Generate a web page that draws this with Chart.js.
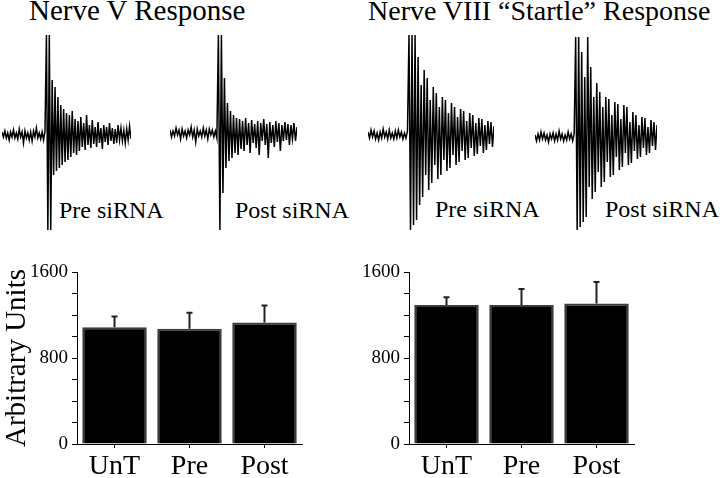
<!DOCTYPE html>
<html><head><meta charset="utf-8">
<script src="https://cdn.jsdelivr.net/npm/chart.js@4.4.1/dist/chart.umd.min.js"></script>
<style>
html,body{margin:0;padding:0;background:#fff;}
body{width:720px;height:478px;position:relative;overflow:hidden;font-family:"Liberation Serif","Times New Roman",serif;color:#000;}
.t{position:absolute;white-space:nowrap;line-height:1;font-family:"Liberation Serif",serif;}
canvas{position:absolute;}
</style></head><body>
<div class="t" style="left:29px;top:-4px;font-size:29px">Nerve V Response</div>
<div class="t" style="left:368px;top:-3px;font-size:28px">Nerve VIII “Startle” Response</div>
<div class="t" style="left:59px;top:198px;font-size:24px">Pre siRNA</div>
<div class="t" style="left:235px;top:198px;font-size:24px">Post siRNA</div>
<div class="t" style="left:435px;top:197px;font-size:24px">Pre siRNA</div>
<div class="t" style="left:605px;top:197px;font-size:24px">Post siRNA</div>

<canvas id="tr1" width="129" height="200" style="left:2px;top:35px"></canvas>
<canvas id="tr2" width="127" height="200" style="left:170px;top:33px"></canvas>
<canvas id="tr3" width="126" height="200" style="left:368px;top:35px"></canvas>
<canvas id="tr4" width="122" height="200" style="left:535px;top:37px"></canvas>
<canvas id="bar1" width="310" height="228" style="left:0px;top:250px"></canvas>
<canvas id="bar2" width="330" height="228" style="left:330px;top:250px"></canvas>

<script>
// ---- Data ----
const categories = ['UnT', 'Pre', 'Post'];
const nerveVMeans = [1085, 1072, 1131];
const nerveVErrors = [100, 150, 158];
const nerveVIIIMeans = [1294, 1294, 1306];
const nerveVIIIErrors = [70, 147, 200];
const yLabelValues = [0, 800, 1600];

// Recorded traces (relative amplitude, baseline = 0)
const traceVPre = [3,-2,4,-3,2,-5,3,-2,5,-3,2,-4,6,-2,3,-8,4,-3,2,-5,3,-6,4,-2,7,-3,2,-4,3,-5,4,
  100,-95,100,-95,
  55,-40,48,-36,38,-33,30,-30,26,-27,22,-25,20,-22,24,-18,16,-20,14,-16,18,-12,12,-15,20,-10,10,-13,15,-9,8,-12,13,-8,7,-14,10,-7,8,-10,12,-6,7,-9,6,-8,10,-5,7,-6,5,-8,6,-5,9,-4];
const traceVPost = [3,-4,2,-3,5,-2,3,-6,4,-3,2,-5,3,-2,6,-4,3,-9,4,-3,2,-4,5,-3,3,-6,4,-2,3,-4,2,-5,
  98,-97,98,
  -60,55,-35,30,-28,22,-25,18,-20,15,-22,14,-16,12,-18,15,-12,10,-20,13,-10,9,-15,12,-22,10,-8,14,-12,9,-25,11,-10,8,-14,12,-9,10,-18,8,-8,11,-7,9,-12,8,-6,10,-8,6];
const traceVIIIPre = [3,-3,5,-2,4,-4,2,-5,3,-3,6,-2,3,-4,5,-3,2,-4,4,-3,5,-2,3,-4,2,-3,4,
  100,-95,100,-90,100,-85,78,-70,50,-62,65,-40,57,-55,35,-48,48,-30,42,-44,28,-40,38,-25,35,-36,22,-33,32,-20,28,-30,18,-27,26,-16,24,-25,14,-23,22,-13,20,-21,12,-19,17,-11,16,-18,10,-15,14,-9,13,-12,9];
const traceVIIIPost = [2,-4,3,-3,5,-2,4,-3,2,-5,3,-2,4,-4,3,-3,6,-2,3,-4,2,-3,5,-2,3,-4,3,
  100,-93,100,-90,85,-85,60,-80,100,-50,70,-62,40,-55,54,-35,45,-50,30,-45,40,-25,38,-40,22,-38,35,-20,33,-33,18,-30,32,-16,30,-28,15,-26,25,-14,22,-22,12,-20,20,-11,19,-18,10,-16,17,-9,15,-13,12];

const SERIF = 'Liberation Serif';

function traceChart(id, values) {
  new Chart(document.getElementById(id), {
    type: 'line',
    data: {
      labels: values.map((_, i) => i),
      datasets: [{ data: values, borderColor: '#000', borderWidth: 1.5, pointRadius: 0, tension: 0, fill: false, clip: 2 }]
    },
    options: {
      responsive: false, animation: false, events: [],
      layout: { padding: 0 },
      plugins: { legend: { display: false }, tooltip: { enabled: false } },
      scales: {
        x: { display: false, offset: false },
        y: { display: false, min: -100, max: 100 }
      }
    }
  });
}
traceChart('tr1', traceVPre);
traceChart('tr2', traceVPost);
traceChart('tr3', traceVIIIPre);
traceChart('tr4', traceVIIIPost);

const errorBars = {
  id: 'errorBars',
  afterDatasetsDraw(chart, args, opts) {
    const errs = opts.errors;
    if (!errs) return;
    const meta = chart.getDatasetMeta(0);
    const ys = chart.scales.y;
    const ctx = chart.ctx;
    ctx.save();
    ctx.strokeStyle = opts.color;
    ctx.lineWidth = opts.width;
    meta.data.forEach((bar, i) => {
      const v = chart.data.datasets[0].data[i];
      const top = ys.getPixelForValue(v + errs[i]);
      ctx.beginPath();
      ctx.moveTo(bar.x, bar.y);
      ctx.lineTo(bar.x, top);
      ctx.moveTo(bar.x - opts.cap, top);
      ctx.lineTo(bar.x + opts.cap, top);
      ctx.stroke();
    });
    ctx.restore();
  }
};

function barChart(id, means, errs, showTitle, axisWidth, padRight) {
  new Chart(document.getElementById(id), {
    type: 'bar',
    data: {
      labels: categories,
      datasets: [{ data: means, backgroundColor: '#000', borderColor: '#3c3c3c', borderWidth: 2,
        categoryPercentage: 1, barPercentage: 0.86 }]
    },
    options: {
      responsive: false, animation: false, events: [],
      layout: { padding: { top: 22, right: padRight, bottom: 0, left: 0 } },
      plugins: {
        legend: { display: false }, tooltip: { enabled: false },
        errorBars: { errors: errs, color: '#222', width: 2, cap: 3 }
      },
      scales: {
        x: {
          ticks: { font: { family: SERIF, size: 28 }, color: '#000', padding: 2 },
          grid: { offset: false, drawOnChartArea: false, drawTicks: true, tickLength: 4, color: '#000' },
          border: { display: true, color: '#000', width: 1 },
          afterFit: s => { s.height = 34; }
        },
        y: {
          min: 0, max: 1600,
          ticks: { stepSize: 200, autoSkip: false, padding: 4, color: '#000',
            font: { family: SERIF, size: 19 },
            callback: v => yLabelValues.includes(v) ? String(v) : '' },
          grid: { drawOnChartArea: false, drawTicks: true, tickLength: 5, color: '#000' },
          border: { display: true, color: '#000', width: 1 },
          title: { display: showTitle, text: 'Arbitrary Units', color: '#000',
            font: { family: SERIF, size: 29 }, padding: 0 },
          afterFit: s => { s.width = axisWidth; }
        }
      }
    },
    plugins: [errorBars]
  });
}
barChart('bar1', nerveVMeans, nerveVErrors, true, 77, 8);
barChart('bar2', nerveVIIIMeans, nerveVIIIErrors, false, 79, 26);
</script>
</body></html>
